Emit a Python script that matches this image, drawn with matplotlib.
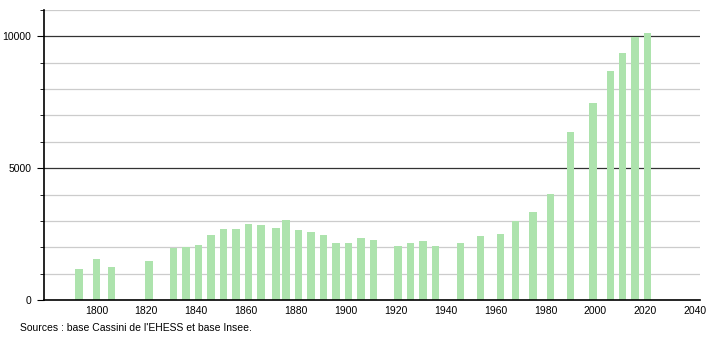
import numpy as np
import matplotlib.pyplot as plt

years = [1793, 1800, 1806, 1821, 1831, 1836, 1841, 1846, 1851, 1856,
         1861, 1866, 1872, 1876, 1881, 1886, 1891, 1896, 1901, 1906,
         1911, 1921, 1926, 1931, 1936, 1946, 1954, 1962, 1968, 1975,
         1982, 1990, 1999, 2006, 2011, 2016, 2021]
population = [1180, 1547, 1267, 1483, 1965, 2015, 2091, 2460, 2700, 2711,
              2901, 2852, 2750, 3042, 2674, 2598, 2471, 2167, 2167, 2345,
              2281, 2066, 2167, 2243, 2053, 2155, 2433, 2510, 2978, 3346,
              4030, 6388, 7478, 8681, 9354, 9962, 10114]
xticks = [1800, 1820, 1840, 1860, 1880, 1900, 1920, 1940, 1960, 1980, 2000, 2020, 2040]
yticks = [0, 5000, 10000]

plt.rcParams['font.family'] = ['Liberation Sans', 'DejaVu Sans']

fig = plt.figure(figsize=(7.1, 3.4), dpi=100)
ax = fig.add_axes([0.062, 0.1176, 0.924, 0.853])

# grid lines: light every 1000, dark at 5000 and 10000
for v in range(1000, 11001, 1000):
    if v % 5000 == 0:
        ax.axhline(v, color="#333333", lw=0.9, zorder=1)
    else:
        ax.axhline(v, color="#cccccc", lw=0.9, zorder=1)

ax.bar(years, population, width=3.0, color="#ade3ad", zorder=2)

ax.set_xlim(1779, 2042)
ax.set_ylim(0, 11000)
ax.set_xticks(xticks)
ax.set_yticks(yticks)
ax.set_yticks(range(0, 11001, 1000), minor=True)
ax.tick_params(axis="x", length=0, labelsize=7.5, pad=4)
ax.tick_params(axis="y", which="major", length=5, labelsize=7.5, pad=4)
ax.tick_params(axis="y", which="minor", length=3)

for s in ["top", "right"]:
    ax.spines[s].set_visible(False)
ax.spines["left"].set_linewidth(1.2)
ax.spines["bottom"].set_linewidth(1.2)
ax.spines["left"].set_zorder(3)
ax.spines["bottom"].set_zorder(3)

fig.text(20/710, 1 - 328/340, "Sources : base Cassini de l'EHESS et base Insee.",
         fontsize=7.5, va="center", ha="left")

fig.savefig("out.png", dpi=100)
